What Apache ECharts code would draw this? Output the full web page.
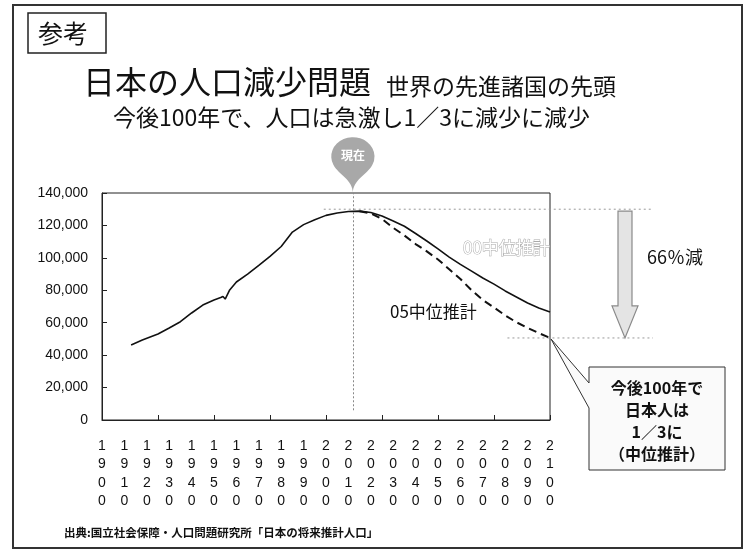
<!DOCTYPE html>
<html>
<head>
<meta charset="utf-8">
<title>日本の人口減少問題</title>
<script src="https://cdn.jsdelivr.net/npm/echarts@6/dist/echarts.min.js"></script>
<style>
  html, body { margin: 0; padding: 0; background: #fff; }
  #chart { width: 745px; height: 551px; }
</style>
</head>
<body>
<div id="chart"></div>
<script>
// 人口（千人）: 実績
const pastYears = [1913, 1918, 1925, 1930, 1935, 1940, 1945, 1950, 1953, 1954, 1955, 1957, 1960, 1965, 1970, 1975, 1980, 1985, 1990, 1995, 2000, 2005, 2010];
const pastPop = [46300, 49300, 53000, 56700, 60600, 66000, 70900, 74000, 75500, 76200, 74600, 80200, 85100, 90000, 95300, 100900, 107000, 115900, 120500, 123500, 126200, 127700, 128600];

// 推計
const projYears = [2015, 2020, 2025, 2030, 2035, 2040, 2045, 2050, 2055, 2060, 2065, 2070, 2075, 2080, 2085, 2090, 2095, 2100];
const proj00 = [128800, 128000, 125800, 122700, 119500, 115000, 110400, 105500, 100500, 96000, 91800, 87600, 83800, 79600, 75900, 72200, 69100, 66600];
const proj05 = [128800, 127400, 124000, 118500, 113800, 108500, 104000, 99000, 93000, 87000, 80000, 74000, 69400, 64500, 60300, 56800, 53600, 50600];

const nowYear = 2012;
// 点線の水準（ピーク・2100年05推計）
const guideYears = [1999, 2081];
const guideLevels = [130000, 50600];

const latin = '"Liberation Sans", Arial, sans-serif';
const jp = '"Noto Sans CJK JP", sans-serif';

const chart = echarts.init(document.getElementById('chart'));

const solidData = pastYears.map((y, i) => [y, pastPop[i]])
  .concat(projYears.map((y, i) => [y, proj00[i]]));
const dashData = projYears.map((y, i) => [y, proj05[i]]);

chart.setOption({
  backgroundColor: '#fff',
  animation: false,
  grid: {
    left: 102, right: 195, top: 193, bottom: 131,
    show: true, borderColor: '#222', borderWidth: 1
  },
  xAxis: [{
    type: 'value', min: 1900, max: 2100, interval: 25,
    axisLine: { lineStyle: { color: '#222' } },
    axisTick: { inside: true, length: 5, lineStyle: { color: '#222' } },
    axisLabel: { show: false },
    splitLine: { show: false }
  }, {
    type: 'value', min: 1900, max: 2100, interval: 10, position: 'bottom',
    axisLine: { show: false },
    axisTick: { show: false },
    splitLine: { show: false },
    axisLabel: {
      formatter: v => String(v).split('').join('\n'),
      fontSize: 14, lineHeight: 18.3, margin: 17,
      color: '#111', fontFamily: latin
    }
  }],
  yAxis: {
    type: 'value', min: 0, max: 140000, interval: 20000,
    axisLine: { show: true, lineStyle: { color: '#222' } },
    axisTick: { show: true, inside: true, length: 5, lineStyle: { color: '#222' } },
    splitLine: { show: false },
    axisLabel: { fontSize: 14, margin: 14, color: '#111', fontFamily: latin }
  },
  series: [{
    name: '00中位推計',
    type: 'line',
    data: solidData,
    symbol: 'none',
    lineStyle: { color: '#111', width: 1.6 },
    z: 3,
    markLine: {
      silent: true,
      symbol: 'none',
      label: { show: false },
      lineStyle: { color: '#888', type: [2, 2], width: 1 },
      data: [[{ coord: [nowYear, 6000] }, { coord: [nowYear, 140000] }]]
    },
    markPoint: {
      silent: true,
      symbol: 'pin',
      symbolSize: [72, 64],
      itemStyle: { color: '#a8a8a8' },
      label: {
        show: true, formatter: '現在', color: '#fff',
        fontSize: 12, fontWeight: 'bold', fontFamily: jp, offset: [0, -4]
      },
      data: [{ coord: [nowYear, 140000] }]
    }
  }, {
    name: '05中位推計',
    type: 'line',
    data: dashData,
    symbol: 'none',
    lineStyle: { color: '#111', width: 2, type: [8, 5] },
    z: 2
  }]
});

const px = (x, y) => chart.convertToPixel({ xAxisIndex: 0, yAxisIndex: 0 }, [x, y]);
const topG = px(guideYears[0], guideLevels[0]);
const botG = px(guideYears[1], guideLevels[1]);
const endPt = px(projYears[projYears.length - 1], proj05[proj05.length - 1]);
const guideEnd = 653;
const ax = 625;

function txt(text, x, y, font, opts) {
  return {
    type: 'text', silent: true,
    style: Object.assign({
      text, x, y, font, fill: '#111',
      align: 'left', verticalAlign: 'middle',
      textAlign: 'left', textVerticalAlign: 'middle'
    }, opts || {})
  };
}

chart.setOption({
  graphic: [
    // 外枠
    { type: 'rect', silent: true, shape: { x: 13, y: 5, width: 729, height: 543 },
      style: { fill: 'none', stroke: '#333', lineWidth: 2 } },
    // 参考
    { type: 'rect', silent: true, shape: { x: 28, y: 13, width: 78, height: 40 },
      style: { fill: '#fff', stroke: '#222', lineWidth: 1.5 } },
    txt('参考', 38, 33, '25px ' + jp),
    txt('日本の人口減少問題', 83, 82, '32px ' + jp),
    txt('世界の先進諸国の先頭', 386, 86, '23px ' + jp),
    txt('今後100年で、人口は急激し1／3に減少に減少', 113, 117, '23px ' + jp),
    // 点線ガイド
    { type: 'line', silent: true, shape: { x1: topG[0], y1: topG[1], x2: guideEnd, y2: topG[1] },
      style: { stroke: '#999', lineWidth: 1, lineDash: [2, 3] } },
    { type: 'line', silent: true, shape: { x1: botG[0], y1: botG[1], x2: guideEnd, y2: botG[1] },
      style: { stroke: '#999', lineWidth: 1, lineDash: [2, 3] } },
    // 減少矢印
    { type: 'polygon', silent: true,
      shape: { points: [
        [ax - 7, topG[1] + 2], [ax + 7, topG[1] + 2], [ax + 7, botG[1] - 32],
        [ax + 13, botG[1] - 32], [ax, botG[1]], [ax - 13, botG[1] - 32], [ax - 7, botG[1] - 32]
      ] },
      style: { fill: '#e4e4e4', stroke: '#8a8a8a', lineWidth: 1.2 } },
    txt('66％減', 647, 257, '18px ' + jp),
    txt('00中位推計', 463, 248, '17px ' + jp, { fill: '#fff', stroke: '#aaa', lineWidth: 1 }),
    txt('05中位推計', 390, 312, '17px ' + jp),
    // 吹き出し
    { type: 'polygon', silent: true,
      shape: { points: [
        [589, 367], [725, 367], [725, 470], [589, 470], [589, 408],
        [endPt[0] + 1, endPt[1] + 1], [589, 383]
      ] },
      style: { fill: '#fafafa', stroke: '#333', lineWidth: 1 } },
    txt('今後100年で\n日本人は\n1／3に\n（中位推計）', 657, 421, 'bold 16px ' + jp,
      { align: 'center', textAlign: 'center', lineHeight: 22 }),
    txt('出典:国立社会保障・人口問題研究所「日本の将来推計人口」', 64, 533, 'bold 11.5px ' + jp)
  ]
});
</script>
</body>
</html>
